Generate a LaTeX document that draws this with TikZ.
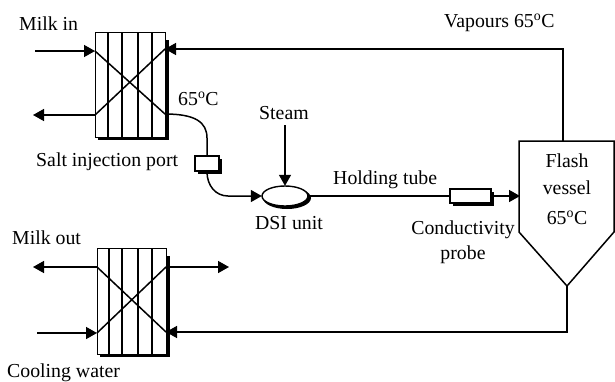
\documentclass[tikz,border=0pt]{standalone}
\usepackage{fontspec}
\setmainfont{Liberation Serif}
\usetikzlibrary{arrows.meta}
\tikzset{
  x=1pt,y=-1pt,
  pipe/.style={line width=1.5pt,line cap=butt},
  flow/.style={pipe,-{Triangle[length=11pt,width=12pt]}},
  lbl/.style={font=\fontsize{19.8}{23}\selectfont,inner sep=0pt,align=center},
  divider/.style={line width=1.2pt},
  hxbox/.style={line width=1.4pt,draw,fill=white,anchor=north west,inner sep=0pt,minimum width=70pt,minimum height=105pt},
  smallbox/.style={line width=1.4pt,draw,fill=white,inner sep=0pt},
  offset fill/.style={fill=black}
}
\newcommand{\degC}{65$^{\mathrm{o}}$C}
\begin{document}
\begin{tikzpicture}
\useasboundingbox (0,0) rectangle (615,381);
% heat exchanger 1
\fill[offset fill] (98,40) rectangle (168.5,140);
\node[hxbox] (hxa) at (95,32) {};
\foreach \xx in {108,122,138,152}{\draw[divider] (\xx,32) -- (\xx,137);}
\coordinate (a1) at (95,51);
\coordinate (a2) at (95,115);
\coordinate (a3) at (165,49);
\coordinate (a4) at (165,114);
\draw[pipe] (a1) -- (a4);
\draw[pipe] (a2) -- (a3);
% heat exchanger 2
\fill[offset fill] (100,256) rectangle (169.5,357);
\node[hxbox,minimum width=69pt,minimum height=106pt] (hxb) at (97,248) {};
\foreach \xx in {109,122,138,152}{\draw[divider] (\xx,248) -- (\xx,354);}
\coordinate (b1) at (97,267);
\coordinate (b2) at (97,333);
\coordinate (b3) at (166,267);
\coordinate (b4) at (166,332);
\draw[pipe] (b1) -- (b4);
\draw[pipe] (b2) -- (b3);
% free ends
\coordinate (milkin) at (35,51);
\coordinate (vapout) at (33,115);
\coordinate (milkout) at (33,267);
\coordinate (coolin) at (37,333);
\coordinate (coolout) at (229,267);
\coordinate (steamin) at (285,125);
% flash vessel
\draw[line width=1.5pt,fill=white] (519,141) -- (614,141) -- (614,232) -- (567,286) -- (519,232) -- cycle;
\coordinate (vtop) at (563,141);
\coordinate (vtip) at (567,286);
\coordinate (vleft) at (520,196);
% small boxes
\fill[offset fill] (198,159) rectangle (222,174);
\node[smallbox,minimum width=24pt,minimum height=15pt] (port) at (207,163.5) {};
\fill[offset fill] (453,192) rectangle (494,206);
\node[smallbox,minimum width=41pt,minimum height=14pt] (probe) at (470.5,196) {};
% DSI
\coordinate (dsi) at (285,196);
\fill[offset fill] (287,198) ellipse [x radius=24,y radius=11];
\draw[line width=1.4pt,fill=white] (dsi) ellipse [x radius=23,y radius=10];
\node[inner sep=0pt,minimum width=46pt,minimum height=20pt] (dsin) at (dsi) {};
% connectors
\draw[flow] (milkin) -- (a1);
\draw[flow] (a2) -- (vapout);
\draw[flow] (b1) -- (milkout);
\draw[flow] (coolin) -- (b2);
\draw[flow] (b3) -- (coolout);
\draw[flow] (vtop) |- (a3);
\draw[flow] (vtip) |- (b4);
\draw[flow] (steamin) -- (dsin.north);
\draw[pipe] (a4) .. controls (195,114) and (207,122) .. (207,138) -- (port.north);
\draw[flow] (port.south) .. controls (207,186) and (216,196) .. (228,196) -- (dsin.west);
\draw[pipe] (dsin.east) -- (probe.west);
\draw[flow] (probe.east) -- (vleft);
% labels
\node[lbl,anchor=west] (t1) at (19,24) {Milk in};
\node[lbl,anchor=west] (t2) at (444,23) {Vapours \degC};
\node[lbl,anchor=west] (t3) at (178,99) {\degC};
\node[lbl,anchor=west] (t4) at (259,113) {Steam};
\node[lbl,anchor=west] (t5) at (36,162) {Salt injection port};
\node[lbl,anchor=west] (t6) at (333,180) {Holding tube};
\node[lbl] (t7) at (289,223) {DSI unit};
\node[lbl] (t8) at (463,242) {Conductivity\\[2pt]probe};
\node[lbl] (t9) at (567,189.5) {Flash\\[4pt]vessel\\[7pt]\degC};
\node[lbl,anchor=west] (t10) at (12,238) {Milk out};
\node[lbl,anchor=west] (t11) at (7,373) {Cooling water};
\end{tikzpicture}
\end{document}
